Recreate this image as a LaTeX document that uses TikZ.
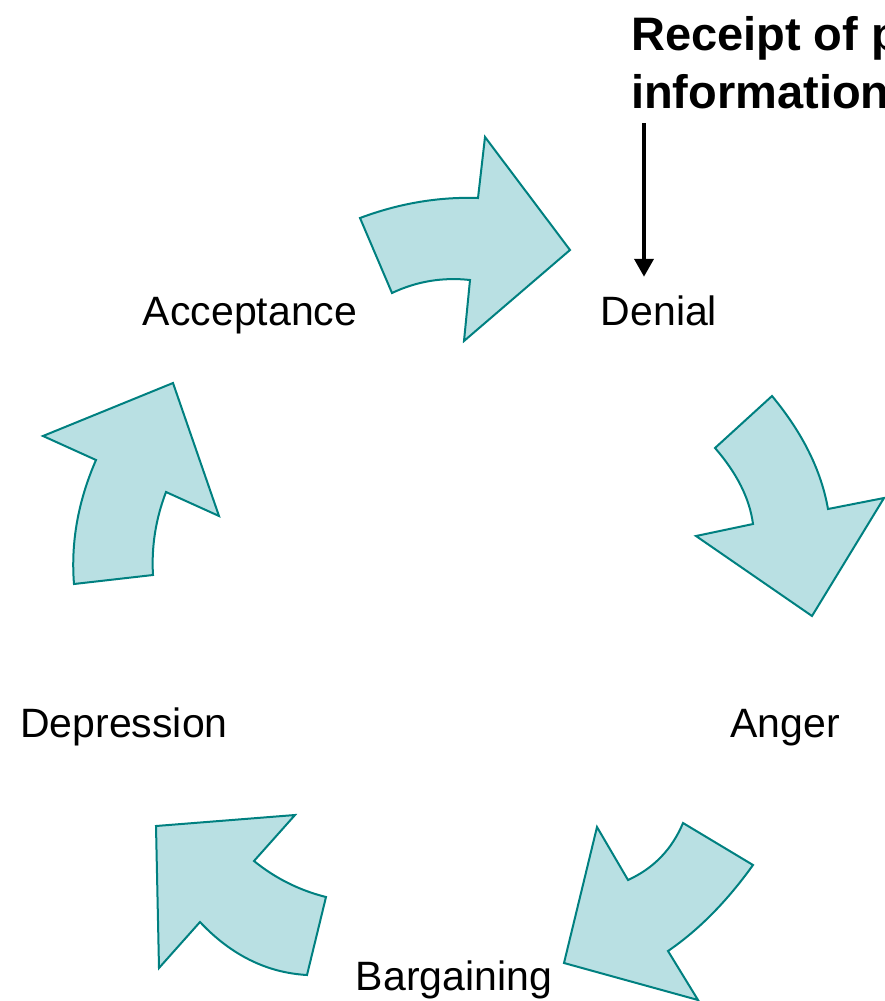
\documentclass[tikz,border=0pt]{standalone}
\usepackage{fontspec}
\setmainfont{Liberation Sans}
\usetikzlibrary{arrows.meta}
\usetikzlibrary{positioning}

\definecolor{stagefill}{RGB}{185,224,227}
\definecolor{stageline}{RGB}{0,128,128}

\begin{document}
\begin{tikzpicture}[x=1pt,y=-1pt]
          \tikzstyle{stage} = [font=\fontsize{41}{49}\selectfont, anchor=base]
          \tikzstyle{cue} = [font=\fontsize{47}{58}\selectfont\bfseries, align=left, anchor=north west, inner sep=0pt]
          \tikzstyle{bigarrow} = [draw=stageline, fill=stagefill, line width=2pt, line join=miter]
          \tikzstyle{pointer} = [line width=4pt, -{Triangle[length=18pt,width=19pt]}]

          \useasboundingbox (0,0) rectangle (885,1001);
          \clip (0,0) rectangle (885,1001);

          % Stages
          \foreach \name / \x / \y / \label in {denial/659/325/Denial, anger/785/737/Anger,
              bargaining/454/990/Bargaining, depression/124/737/Depression, acceptance/250/325/Acceptance}
            \node[stage] (\name) at (\x, \y) {\label};

          % News
          \node[cue] (receipt) at (631, 16) {Receipt of p\\information};
          \coordinate (newsend) at (644, 123);
          \draw[pointer, shorten >=15pt] (newsend) -- (denial.north -| newsend);

          % Cycle arrows
          \draw[bigarrow] (360,218) -- (392,293) .. controls (416.7,281.3) and (442.7,277) .. (470,280) -- (464,341)
            -- (570,250) -- (485,137) -- (478,198) .. controls (438.7,196.7) and (399.3,203.3) .. cycle;
          \draw[bigarrow] (772,396) -- (715,448) .. controls (737,473.3) and (749.7,498.7) .. (753,524) -- (696,536)
            -- (812,616) -- (884,498) -- (828,509) .. controls (821.3,470.7) and (802.7,433) .. cycle;
          \draw[bigarrow] (683,823) -- (753,865) .. controls (726.7,901.7) and (698.3,930.3) .. (668,951) -- (698,1000)
            -- (564,963) -- (597,827) -- (628,880) .. controls (653.7,868.3) and (672,849.3) .. cycle;
          \draw[bigarrow] (326,897) -- (307,975) .. controls (266.7,972.7) and (231,955) .. (200,922) -- (159,968)
            -- (156,826) -- (295,815) -- (254,861) .. controls (275.3,878.3) and (299.3,890.3) .. cycle;
          \draw[bigarrow] (74,584) -- (153,575) .. controls (151.3,546.7) and (155.7,519) .. (166,492) -- (219,516)
            -- (173,383) -- (43,436) -- (96,460) .. controls (78,501.3) and (70.7,542.7) .. cycle;

        \end{tikzpicture}
\end{document}
